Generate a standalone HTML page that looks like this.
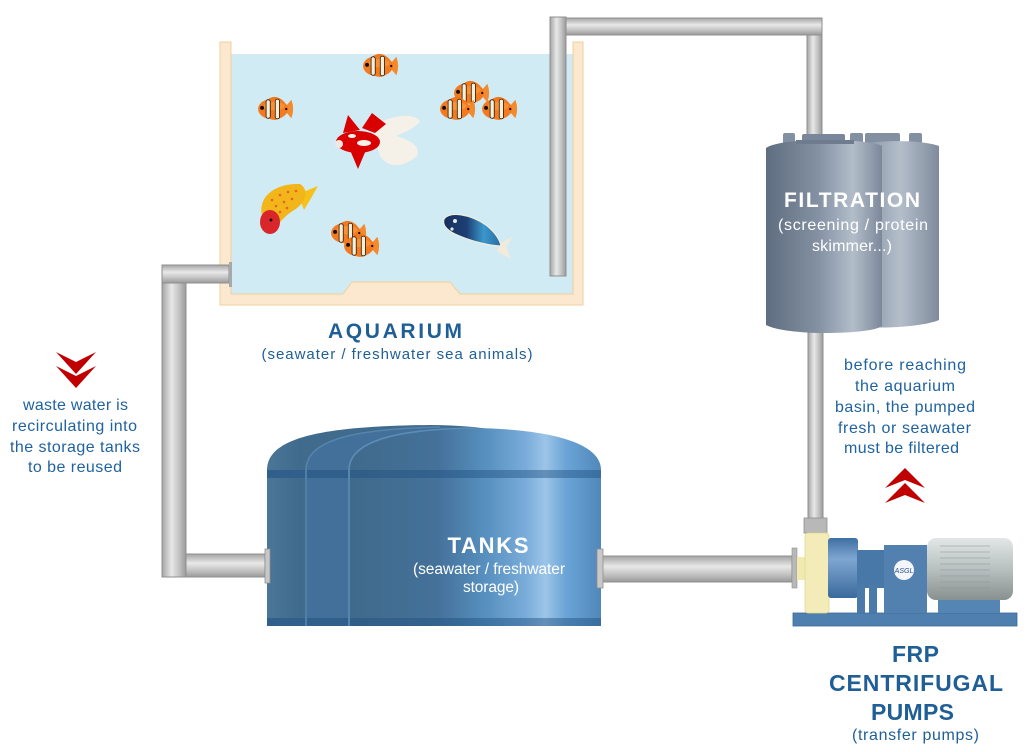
<!DOCTYPE html>
<html><head><meta charset="utf-8"><style>
html,body{margin:0;padding:0;background:#fff;}
svg{display:block;}
text{font-family:"Liberation Sans",Arial,sans-serif;}
</style></head><body>
<svg width="1028" height="752" viewBox="0 0 1028 752" xmlns="http://www.w3.org/2000/svg">
<defs>
 <linearGradient id="pv" x1="0" y1="0" x2="1" y2="0">
  <stop offset="0" stop-color="#a4a4a4"/><stop offset="0.4" stop-color="#e8e8e8"/><stop offset="0.7" stop-color="#c4c4c4"/><stop offset="1" stop-color="#9a9a9a"/>
 </linearGradient>
 <linearGradient id="ph" x1="0" y1="0" x2="0" y2="1">
  <stop offset="0" stop-color="#a4a4a4"/><stop offset="0.4" stop-color="#e8e8e8"/><stop offset="0.7" stop-color="#c4c4c4"/><stop offset="1" stop-color="#9a9a9a"/>
 </linearGradient>
 <linearGradient id="tankF" x1="0" y1="0" x2="1" y2="0">
  <stop offset="0" stop-color="#406a8b"/><stop offset="0.35" stop-color="#44719a"/><stop offset="0.55" stop-color="#5891c0"/><stop offset="0.7" stop-color="#79acd9"/><stop offset="0.78" stop-color="#9cc4e8"/><stop offset="0.86" stop-color="#6ba4d6"/><stop offset="1" stop-color="#4f88b9"/>
 </linearGradient>
 <linearGradient id="tankB" x1="0" y1="0" x2="1" y2="0">
  <stop offset="0" stop-color="#4a7698"/><stop offset="0.1" stop-color="#416b8c"/><stop offset="1" stop-color="#416b8c"/>
 </linearGradient>
 <linearGradient id="filt" x1="0" y1="0" x2="1" y2="0">
  <stop offset="0" stop-color="#5f6d80"/><stop offset="0.45" stop-color="#8391a3"/><stop offset="0.75" stop-color="#b3bdca"/><stop offset="1" stop-color="#7c889a"/>
 </linearGradient>
 <linearGradient id="filt2" x1="0" y1="0" x2="1" y2="0">
  <stop offset="0" stop-color="#7b889a"/><stop offset="0.55" stop-color="#b4becb"/><stop offset="1" stop-color="#7f8b9c"/>
 </linearGradient>
 <linearGradient id="motor" x1="0" y1="0" x2="0" y2="1">
  <stop offset="0" stop-color="#e3e7e7"/><stop offset="0.5" stop-color="#b8c0c0"/><stop offset="1" stop-color="#87918f"/>
 </linearGradient>
 <linearGradient id="blueP" x1="0" y1="0" x2="0" y2="1">
  <stop offset="0" stop-color="#3f6fa3"/><stop offset="0.35" stop-color="#7fa6d2"/><stop offset="1" stop-color="#3a6a9c"/>
 </linearGradient>
 <linearGradient id="bluefish" x1="0" y1="0" x2="1" y2="0">
  <stop offset="0" stop-color="#15305e"/><stop offset="0.4" stop-color="#1d3f74"/><stop offset="0.7" stop-color="#3a98cc"/><stop offset="1" stop-color="#2a6aa0"/>
 </linearGradient>
 <g id="cf">
  <path d="M-7,-6 Q1,-15 10,-6 Z" fill="#ef7618"/>
  <path d="M-6,6 Q1,13 9,6 Z" fill="#ef7618"/>
  <path d="M9,0 L16,-8 Q19,0 16,8 Z" fill="#f38a2c"/>
  <ellipse cx="0" cy="0" rx="13" ry="9" fill="#f47a1f"/>
  <ellipse cx="1" cy="-2.5" rx="9" ry="3.5" fill="#fa9b40" opacity="0.7"/>
  <rect x="-6" y="-8" width="3.6" height="16" rx="1.5" fill="#f3efd8" stroke="#2a1a10" stroke-width="0.7"/>
  <rect x="2" y="-8.5" width="3.6" height="17" rx="1.5" fill="#f3efd8" stroke="#2a1a10" stroke-width="0.7"/>
  <circle cx="-9.5" cy="-1" r="1.7" fill="#111"/>
  <circle cx="11.5" cy="0" r="1" fill="#111"/>
 </g>
</defs>

<!-- Aquarium -->
<rect x="231" y="54" width="342" height="240" fill="#d1ebf5"/>
<path d="M220,42 L231,42 L231,294 L343,294 L352,282 L450,282 L460,294 L573,294 L573,42 L583,42 L583,305 L220,305 Z" fill="#fce8cf" stroke="#f0d19c" stroke-width="1"/>

<!-- fish -->
<use href="#cf" transform="translate(378,66) scale(1.15)"/>
<use href="#cf" transform="translate(273,109) scale(1.15)"/>
<use href="#cf" transform="translate(469,93) scale(1.15)"/>
<use href="#cf" transform="translate(455,109) scale(1.15)"/>
<use href="#cf" transform="translate(497,109) scale(1.15)"/>
<use href="#cf" transform="translate(346,233) scale(1.15)"/>
<use href="#cf" transform="translate(359,246) scale(1.15)"/>

<!-- goldfish -->
<path d="M372,128 C392,112 418,114 420,122 C412,130 402,133 396,136 C410,140 421,146 417,156 C405,166 390,170 380,156 Z" fill="#f6f1e8"/>
<path d="M343,133 L348,115 L360,130 Z" fill="#d90000"/>
<path d="M362,128 L372,113 L386,124 L375,133 Z" fill="#d90000"/>
<path d="M350,150 L358,169 L366,150 Z" fill="#d90000"/>
<ellipse cx="358" cy="142" rx="22" ry="11" fill="#d90000"/>
<ellipse cx="364" cy="143" rx="7" ry="3" fill="#f6f1e8"/>
<ellipse cx="352" cy="136" rx="4" ry="2" fill="#f6f1e8"/>
<ellipse cx="339" cy="144" rx="4" ry="4" fill="#f3e8e0"/>

<!-- koi -->
<path d="M298,194 L318,186 L310,200 L304,210 Z" fill="#f5c21c"/>
<path d="M262,215 C258,196 276,183 300,184 C310,190 306,204 291,212 C282,218 278,226 272,232 Z" fill="#f2b51a"/>
<g fill="#e04030" opacity="0.7">
 <circle cx="272" cy="200" r="1.3"/><circle cx="280" cy="195" r="1.3"/><circle cx="288" cy="192" r="1.3"/><circle cx="296" cy="191" r="1.3"/>
 <circle cx="276" cy="206" r="1.3"/><circle cx="284" cy="202" r="1.3"/><circle cx="292" cy="199" r="1.3"/><circle cx="280" cy="212" r="1.3"/><circle cx="287" cy="208" r="1.3"/>
</g>
<ellipse cx="270" cy="222" rx="10" ry="12" fill="#d8262b"/>
<circle cx="271" cy="220" r="1.5" fill="#111"/>

<!-- blue fish -->
<path d="M500,244 L513,236 L506,247 L511,259 L497,251 Z" fill="#f4ead8"/>
<path d="M444,219 C450,211 470,214 486,225 C495,232 500,240 501,246 C490,246 470,241 455,234 C447,230 442,225 444,219 Z" fill="url(#bluefish)" stroke="#f2ecdc" stroke-width="1.2"/>
<circle cx="455" cy="221" r="2" fill="#e8e8e8"/>
<circle cx="452" cy="229" r="1.6" fill="#e8e8e8"/>

<!-- pipes top right -->
<rect x="566" y="18" width="256" height="17" fill="url(#ph)" stroke="#8f8f8f" stroke-width="1"/>
<rect x="807" y="35" width="15" height="110" fill="url(#pv)" stroke="#8f8f8f" stroke-width="1"/>
<rect x="550" y="17" width="16" height="259" fill="url(#pv)" stroke="#8f8f8f" stroke-width="1"/>

<!-- left pipes -->
<rect x="162" y="265" width="24" height="312" fill="url(#pv)" stroke="#8f8f8f" stroke-width="1"/>
<rect x="162" y="265" width="67" height="18" fill="url(#ph)" stroke="#8f8f8f" stroke-width="1"/>
<rect x="229" y="262" width="3" height="25" fill="#a8a8a8"/>
<rect x="186" y="554" width="79" height="23" fill="url(#ph)" stroke="#8f8f8f" stroke-width="1"/>

<!-- pipe tank -> pump -->
<rect x="602" y="556" width="190" height="26" fill="url(#ph)" stroke="#8f8f8f" stroke-width="1"/>
<!-- pipe filter -> pump -->
<rect x="808" y="325" width="15" height="194" fill="url(#pv)" stroke="#8f8f8f" stroke-width="1"/>

<!-- Tanks -->
<path d="M267,626 L267,470 C267,438 320,426 430,425 C500,425 560,440 580,470 L580,626 Z" fill="url(#tankB)"/>
<path d="M306,626 L306,470 C306,441 350,429 440,427 C520,428 570,440 590,470 L590,626 Z" fill="#42709a"/>
<path d="M306,470 C306,441 350,429 440,427" fill="none" stroke="#5585ad" stroke-width="1.5"/>
<rect x="267" y="470" width="320" height="8" fill="#2f5f8a"/>
<rect x="267" y="618" width="320" height="8" fill="#2f5f8a"/>
<rect x="305" y="470" width="2" height="156" fill="#4f7fa6"/>
<path d="M349,626 L349,470 C349,440 400,429 475,428 C540,429 601,440 601,470 L601,626 Z" fill="url(#tankF)"/>
<path d="M349,470 C349,440 400,429 475,428" fill="none" stroke="#5c8db6" stroke-width="1.5"/>
<rect x="349" y="470" width="252" height="8" fill="#1e4f80" opacity="0.45"/>
<rect x="349" y="618" width="252" height="8" fill="#1e4f80" opacity="0.45"/>
<rect x="348" y="470" width="2" height="156" fill="#5586b0"/>
<rect x="265" y="549" width="5" height="34" fill="#c8c8c8" stroke="#8f8f8f" stroke-width="0.8"/>
<rect x="597" y="549" width="6" height="39" fill="#c8c8c8" stroke="#8f8f8f" stroke-width="0.8"/>
<text x="488" y="553" font-size="22" font-weight="bold" fill="#fff" text-anchor="middle" textLength="81" lengthAdjust="spacing">TANKS</text>
<text x="489" y="574" font-size="15.5" fill="#fff" text-anchor="middle" textLength="152" lengthAdjust="spacing">(seawater / freshwater</text>
<text x="491" y="592" font-size="15.5" fill="#fff" text-anchor="middle" textLength="56" lengthAdjust="spacing">storage)</text>

<!-- Filtration -->
<g fill="#8390a2">
 <rect x="865" y="133" width="35" height="12" rx="2"/>
 <rect x="909" y="133" width="13" height="12" rx="2"/>
</g>
<path d="M853,326 L853,146 C870,140 920,139 939,146 L939,320 C920,328 870,329 853,326 Z" fill="url(#filt2)"/>
<g fill="#8390a2">
 <rect x="783" y="133" width="12" height="12" rx="2"/>
 <rect x="802" y="134" width="43" height="12" rx="2" fill="#7a879a"/>
 <rect x="850" y="133" width="13" height="12" rx="2"/>
</g>
<path d="M766,325 L766,148 C775,142 800,140 824,140 C850,140 875,142 882,146 L882,326 C875,331 850,333 824,333 C800,333 775,330 766,325 Z" fill="url(#filt)"/>
<rect x="796" y="140" width="58" height="4" fill="#6f7c8f"/>
<text x="852" y="207" font-size="21" font-weight="bold" fill="#fff" text-anchor="middle" textLength="136" lengthAdjust="spacing">FILTRATION</text>
<text x="853" y="230" font-size="16" fill="#fff" text-anchor="middle" textLength="150" lengthAdjust="spacing">(screening / protein</text>
<text x="852" y="251" font-size="16" fill="#fff" text-anchor="middle" textLength="80" lengthAdjust="spacing">skimmer...)</text>

<!-- Pump -->
<rect x="793" y="613" width="224" height="13" fill="#4f7fae" stroke="#3c6898" stroke-width="0.8"/>
<rect x="804" y="518" width="23" height="15" fill="#b8b8b8" stroke="#8f8f8f" stroke-width="0.8"/>
<rect x="792" y="548" width="5" height="40" fill="#b8b8b8" stroke="#8f8f8f" stroke-width="0.6"/>
<rect x="797" y="557" width="9" height="23" fill="#f1eab0"/>
<rect x="805" y="533" width="24" height="80" rx="3" fill="#f3ecb8" stroke="#e2d890" stroke-width="0.8"/>
<rect x="828" y="538" width="30" height="60" rx="3" fill="url(#blueP)"/>
<rect x="857" y="550" width="28" height="38" fill="#4878a8"/>
<rect x="857" y="585" width="8" height="28" fill="#4a7aa9"/>
<rect x="869" y="585" width="8" height="28" fill="#4a7aa9"/>
<rect x="884" y="545" width="43" height="68" fill="#5281b0"/>
<circle cx="904" cy="570" r="10" fill="#f4f6fa"/>
<text x="904" y="573" font-size="7" font-style="italic" fill="#2a4f8a" text-anchor="middle">ASGL</text>
<rect x="938" y="592" width="62" height="21" fill="#5585b3"/>
<rect x="927" y="538" width="86" height="62" rx="9" fill="url(#motor)"/>
<g stroke="#8c9696" stroke-width="0.8" opacity="0.7">
 <line x1="940" y1="546" x2="990" y2="546"/><line x1="940" y1="552" x2="990" y2="552"/><line x1="940" y1="558" x2="990" y2="558"/><line x1="940" y1="564" x2="990" y2="564"/><line x1="940" y1="570" x2="990" y2="570"/><line x1="940" y1="576" x2="990" y2="576"/><line x1="940" y1="582" x2="990" y2="582"/><line x1="940" y1="588" x2="990" y2="588"/>
</g>

<!-- Labels -->
<text x="395" y="338" font-size="21" font-weight="bold" fill="#1f5f96" text-anchor="middle" textLength="134" lengthAdjust="spacing">AQUARIUM</text>
<text x="397" y="359" font-size="15" fill="#1f5f96" text-anchor="middle" textLength="271" lengthAdjust="spacing">(seawater / freshwater sea animals)</text>

<g font-size="16" fill="#1f62a0" text-anchor="middle">
 <text x="75.5" y="410" textLength="105" lengthAdjust="spacing">waste water is</text>
 <text x="74.5" y="431" textLength="125" lengthAdjust="spacing">recirculating into</text>
 <text x="75" y="452" textLength="130" lengthAdjust="spacing">the storage tanks</text>
 <text x="75" y="472" textLength="94" lengthAdjust="spacing">to be reused</text>
</g>
<g font-size="16" fill="#1f62a0" text-anchor="middle">
 <text x="905" y="370" textLength="122" lengthAdjust="spacing">before reaching</text>
 <text x="905" y="391" textLength="100" lengthAdjust="spacing">the aquarium</text>
 <text x="905" y="412" textLength="140" lengthAdjust="spacing">basin, the pumped</text>
 <text x="904.5" y="433" textLength="133" lengthAdjust="spacing">fresh or seawater</text>
 <text x="901.5" y="453" textLength="115" lengthAdjust="spacing">must be filtered</text>
</g>

<g font-size="23" font-weight="bold" fill="#1f5f96" text-anchor="middle">
 <text x="915.5" y="662" textLength="47" lengthAdjust="spacing">FRP</text>
 <text x="916" y="691" textLength="174" lengthAdjust="spacing">CENTRIFUGAL</text>
 <text x="912.5" y="720" textLength="83" lengthAdjust="spacing">PUMPS</text>
</g>
<text x="915.5" y="740" font-size="16" fill="#1f5f96" text-anchor="middle" textLength="127" lengthAdjust="spacing">(transfer pumps)</text>

<!-- chevrons -->
<g fill="#c00000">
 <polygon points="56,352 76,362 96,352 76,374"/>
 <polygon points="56,366 76,376 96,366 76,388"/>
 <polygon points="905,468 925,488 905,480 885,488"/>
 <polygon points="905,483 925,503 905,495 885,503"/>
</g>
</svg>
</body></html>
